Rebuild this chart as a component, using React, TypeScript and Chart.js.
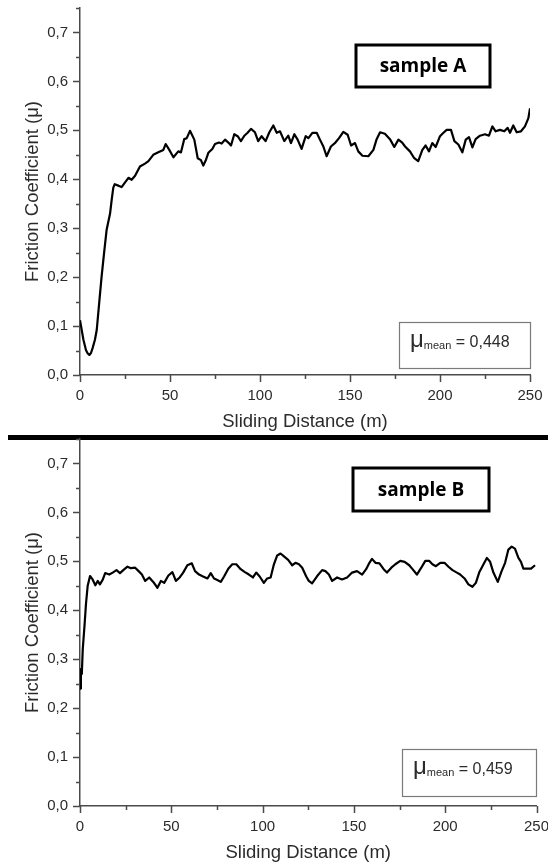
import React, { useEffect, useRef } from "react";
import { Chart, registerables } from "chart.js";

Chart.register(...registerables);

// ---------- data ----------
const DIST_A = [0, 1.9, 3.3, 4.3, 5.2, 6.1, 7, 8.3, 9.3, 10.6, 12, 13.4, 14.8, 16.7, 17.6, 18.5, 19.3, 21.3, 23.1, 26.9, 28.7, 30.6, 33.3, 36.1, 38, 40.7, 43.5, 46.3, 47.6, 49.6, 51.9, 54.6, 56.1, 57.9, 59.3, 61.1, 63.5, 65.4, 67.2, 68.5, 70, 71.3, 73.5, 75, 77.2, 78.7, 80.6, 82.4, 83.9, 85.7, 87.6, 89.4, 91.3, 93.1, 95, 97.2, 99, 100.9, 103.1, 105.2, 107.4, 109.3, 111.1, 113.5, 115.7, 117.2, 119.1, 120.9, 123.1, 125.4, 126.9, 129.1, 131.5, 133.3, 135.2, 137, 139.4, 141.9, 143.9, 146.3, 148.7, 150.6, 152.8, 154.6, 156.9, 160.2, 163, 164.8, 166.7, 169.4, 172.2, 174.6, 176.9, 179, 180.6, 183.3, 185.7, 187.9, 190.2, 192, 193.9, 195.7, 197.6, 200, 201.9, 203.7, 206.1, 208, 210.2, 212.4, 214.3, 216.1, 218, 219.8, 222.2, 225, 227.2, 229.1, 230.9, 233.3, 235.7, 237.6, 238.9, 240.7, 242.6, 245, 247.2, 249.1, 250];
const MU_A = [0.112, 0.072, 0.051, 0.044, 0.041, 0.045, 0.055, 0.072, 0.092, 0.145, 0.201, 0.25, 0.297, 0.33, 0.358, 0.383, 0.39, 0.387, 0.384, 0.403, 0.399, 0.407, 0.426, 0.432, 0.437, 0.45, 0.455, 0.46, 0.472, 0.46, 0.445, 0.457, 0.455, 0.482, 0.484, 0.499, 0.481, 0.443, 0.439, 0.428, 0.44, 0.454, 0.462, 0.472, 0.475, 0.473, 0.481, 0.475, 0.469, 0.492, 0.488, 0.478, 0.489, 0.495, 0.503, 0.496, 0.478, 0.488, 0.478, 0.496, 0.51, 0.495, 0.498, 0.478, 0.489, 0.474, 0.492, 0.481, 0.462, 0.488, 0.484, 0.495, 0.495, 0.481, 0.467, 0.447, 0.467, 0.475, 0.484, 0.497, 0.491, 0.469, 0.474, 0.457, 0.448, 0.447, 0.46, 0.482, 0.496, 0.493, 0.482, 0.466, 0.481, 0.475, 0.467, 0.457, 0.443, 0.437, 0.46, 0.469, 0.457, 0.474, 0.466, 0.488, 0.495, 0.501, 0.501, 0.478, 0.471, 0.455, 0.481, 0.486, 0.465, 0.482, 0.489, 0.492, 0.489, 0.508, 0.498, 0.501, 0.498, 0.505, 0.495, 0.51, 0.496, 0.498, 0.508, 0.525, 0.545];

const DIST_B = [0, 0.5, 1, 1.5, 2.5, 3.3, 4.2, 5.5, 6.9, 8.4, 9.7, 10.9, 12.4, 13.8, 16, 17.9, 20, 21.9, 23.7, 26, 27.9, 30.2, 32.1, 33.9, 35.7, 37.9, 40.1, 42.4, 44.3, 46.1, 48.4, 50.6, 52.5, 54.6, 56.5, 58.8, 61.2, 63, 65.2, 67.4, 69.8, 71.6, 73.4, 75.2, 77.1, 78.9, 81.2, 83.4, 85.6, 88, 90.3, 92.5, 94.7, 96.5, 98.4, 100.7, 102.5, 104.4, 106.2, 108, 109.8, 111.7, 114, 116.2, 118, 119.9, 121.7, 123.9, 125.3, 127.1, 129.9, 132.6, 134.4, 136.3, 138.1, 140.8, 143.5, 146.3, 149, 151.7, 154.5, 156.7, 158.5, 159.9, 161.8, 164, 166.3, 168.1, 170.5, 172.7, 175.4, 177.8, 180.3, 182.1, 184.5, 186.9, 189.1, 191.2, 193, 194.9, 197.3, 199.6, 201.8, 204, 206.4, 208.2, 210.6, 212.7, 214.9, 216.8, 218.6, 220.4, 222.8, 224.6, 226.4, 228.8, 230.9, 232.8, 234.6, 236.4, 238.2, 240.1, 241.5, 242.8, 244.6, 247, 249.2];
const MU_B = [0.24, 0.28, 0.27, 0.32, 0.37, 0.414, 0.45, 0.47, 0.463, 0.451, 0.46, 0.453, 0.462, 0.476, 0.473, 0.477, 0.482, 0.476, 0.482, 0.489, 0.486, 0.487, 0.48, 0.473, 0.46, 0.467, 0.458, 0.446, 0.46, 0.456, 0.471, 0.478, 0.46, 0.467, 0.477, 0.492, 0.496, 0.48, 0.473, 0.469, 0.465, 0.476, 0.465, 0.462, 0.458, 0.469, 0.485, 0.494, 0.494, 0.484, 0.478, 0.473, 0.467, 0.477, 0.469, 0.456, 0.465, 0.467, 0.494, 0.512, 0.516, 0.51, 0.503, 0.492, 0.497, 0.494, 0.487, 0.469, 0.46, 0.455, 0.47, 0.482, 0.48, 0.473, 0.46, 0.467, 0.463, 0.467, 0.477, 0.48, 0.473, 0.484, 0.497, 0.505, 0.497, 0.496, 0.484, 0.477, 0.487, 0.494, 0.501, 0.499, 0.492, 0.484, 0.473, 0.487, 0.501, 0.501, 0.494, 0.49, 0.497, 0.497, 0.489, 0.482, 0.477, 0.473, 0.465, 0.453, 0.448, 0.456, 0.477, 0.49, 0.507, 0.499, 0.477, 0.458, 0.48, 0.497, 0.524, 0.53, 0.526, 0.507, 0.499, 0.485, 0.485, 0.485, 0.492];

const X_TICKS = [0, 50, 100, 150, 200, 250];
const X_MINOR = [25, 75, 125, 175, 225];
const Y_TICKS = [0, 0.1, 0.2, 0.3, 0.4, 0.5, 0.6, 0.7];
const Y_MINOR = [0.05, 0.15, 0.25, 0.35, 0.45, 0.55, 0.65, 0.75];
const X_MAX = 250;
const Y_MAX = 0.75;
const X_TITLE = "Sliding Distance (m)";
const Y_TITLE = "Friction Coefficient (\u03bc)";
const LABEL_A = "sample A";
const LABEL_B = "sample B";
const MEAN_A = "0,448";
const MEAN_B = "0,459";

// ---------- styling ----------
const AXIS_COLOR = "#4a4a4a";
const TEXT_COLOR = "#2b2b2b";
const FONT = '"Liberation Sans", Arial, sans-serif';

type Box = { x: number; y: number; w: number; h: number };

const decoPlugin = {
  id: "deco",
  afterDraw(chart: any, _args: any, opts: any) {
    const ctx = chart.ctx as CanvasRenderingContext2D;
    const xs = chart.scales.x;
    const ys = chart.scales.y;
    const ca = chart.chartArea;
    ctx.save();
    // tick marks (major + minor), outward
    ctx.strokeStyle = AXIS_COLOR;
    ctx.lineWidth = 1.5;
    ctx.beginPath();
    X_TICKS.forEach((v) => {
      const px = Math.round(xs.getPixelForValue(v)) + 0.5;
      ctx.moveTo(px, ca.bottom);
      ctx.lineTo(px, ca.bottom + 7);
    });
    X_MINOR.forEach((v) => {
      const px = Math.round(xs.getPixelForValue(v)) + 0.5;
      ctx.moveTo(px, ca.bottom);
      ctx.lineTo(px, ca.bottom + 4);
    });
    Y_TICKS.forEach((v) => {
      const py = Math.round(ys.getPixelForValue(v)) + 0.5;
      ctx.moveTo(ca.left, py);
      ctx.lineTo(ca.left - 7, py);
    });
    Y_MINOR.forEach((v) => {
      const py = Math.round(ys.getPixelForValue(v)) + 0.5;
      ctx.moveTo(ca.left, py);
      ctx.lineTo(ca.left - 4, py);
    });
    ctx.stroke();

    // sample label box
    const sb: Box = opts.sampleBox;
    ctx.strokeStyle = "#000";
    ctx.lineWidth = 3;
    ctx.strokeRect(sb.x, sb.y, sb.w, sb.h);
    ctx.fillStyle = "#000";
    ctx.font = 'bold 19px "Open Sans", sans-serif';
    ctx.textAlign = "center";
    ctx.textBaseline = "middle";
    ctx.fillText(opts.label, sb.x + sb.w / 2, sb.y + sb.h / 2 + 1);

    // mean box
    const mb: Box = opts.meanBox;
    ctx.strokeStyle = "#7a7a7a";
    ctx.lineWidth = 1.2;
    ctx.strokeRect(mb.x + 0.5, mb.y + 0.5, mb.w, mb.h);
    ctx.fillStyle = TEXT_COLOR;
    ctx.textAlign = "left";
    ctx.textBaseline = "alphabetic";
    const base = mb.y + 25;
    let cx = mb.x + 11;
    ctx.font = `24px ${FONT}`;
    ctx.fillText("\u03bc", cx, base);
    cx += ctx.measureText("\u03bc").width;
    ctx.font = `11px ${FONT}`;
    ctx.fillText("mean", cx, base + 2);
    cx += ctx.measureText("mean").width;
    ctx.font = `16px ${FONT}`;
    ctx.fillText(" = " + opts.mean, cx, base);
    ctx.restore();
  },
};

type PanelProps = {
  top: number;
  height: number;
  dist: number[];
  mu: number[];
  label: string;
  mean: string;
  padTop: number;
  padRight: number;
  sampleBox: Box;
  meanBox: Box;
};

function Panel(p: PanelProps) {
  const ref = useRef<HTMLCanvasElement | null>(null);
  useEffect(() => {
    if (!ref.current) return;
    const n = Math.min(p.dist.length, p.mu.length);
    const pts = [];
    for (let i = 0; i < n; i++) pts.push({ x: p.dist[i], y: p.mu[i] });
    const chart = new Chart(ref.current, {
      type: "line",
      data: {
        datasets: [
          {
            data: pts,
            borderColor: "#000",
            borderWidth: 2.2,
            pointRadius: 0,
            fill: false,
            tension: 0,
            borderJoinStyle: "round",
          },
        ],
      },
      plugins: [decoPlugin as any],
      options: {
        animation: false,
        responsive: false,
        devicePixelRatio: 1,
        layout: { padding: { top: p.padTop, right: p.padRight, left: 0, bottom: 0 } },
        plugins: {
          legend: { display: false },
          tooltip: { enabled: false },
          deco: { label: p.label, mean: p.mean, sampleBox: p.sampleBox, meanBox: p.meanBox },
        } as any,
        scales: {
          x: {
            type: "linear",
            min: 0,
            max: X_MAX,
            afterBuildTicks: (s: any) => {
              s.ticks = X_TICKS.map((v) => ({ value: v }));
            },
            afterFit: (s: any) => {
              s.height = 58;
              s.paddingLeft = 0;
              s.paddingRight = 0;
            },
            grid: { display: false, drawTicks: false },
            border: { display: true, color: AXIS_COLOR, width: 1.5 },
            ticks: {
              padding: 12,
              color: TEXT_COLOR,
              font: { family: FONT, size: 15 },
              maxRotation: 0,
              callback: (v: any) => String(v),
            },
            title: {
              display: true,
              text: X_TITLE,
              color: TEXT_COLOR,
              font: { family: FONT, size: 18.5 },
              padding: { top: 0, bottom: 0 },
            },
          },
          y: {
            type: "linear",
            min: 0,
            max: Y_MAX,
            afterBuildTicks: (s: any) => {
              s.ticks = Y_TICKS.map((v) => ({ value: v }));
            },
            afterFit: (s: any) => {
              s.width = 80;
              s.paddingTop = 0;
              s.paddingBottom = 0;
            },
            grid: { display: false, drawTicks: false },
            border: { display: true, color: AXIS_COLOR, width: 1.5 },
            ticks: {
              padding: 12,
              color: TEXT_COLOR,
              font: { family: FONT, size: 15 },
              callback: (v: any) => Number(v).toFixed(1).replace(".", ","),
            },
            title: {
              display: true,
              text: Y_TITLE,
              color: TEXT_COLOR,
              font: { family: FONT, size: 18.5 },
              padding: { top: 22, bottom: 0 },
            },
          },
        },
      } as any,
    });
    return () => chart.destroy();
  }, []);
  return (
    <canvas
      ref={ref}
      width={548}
      height={p.height}
      style={{ position: "absolute", left: 0, top: p.top, width: 548, height: p.height }}
    />
  );
}

export default function App() {
  return (
    <div style={{ position: "absolute", left: 0, top: 0, width: 548, height: 864, background: "#fff" }}>
      <div style={{ position: "absolute", left: 8, top: 435, width: 540, height: 5, background: "#000" }} />
      <Panel
        top={0}
        height={433}
        dist={DIST_A}
        mu={MU_A}
        label={LABEL_A}
        mean={MEAN_A}
        padTop={8}
        padRight={18}
        sampleBox={{ x: 356, y: 45, w: 134, h: 42 }}
        meanBox={{ x: 399, y: 322, w: 131, h: 46 }}
      />
      <Panel
        top={436}
        height={428}
        dist={DIST_B}
        mu={MU_B}
        label={LABEL_B}
        mean={MEAN_B}
        padTop={3}
        padRight={11.5}
        sampleBox={{ x: 353, y: 32, w: 136, h: 43 }}
        meanBox={{ x: 402, y: 313, w: 134, h: 47 }}
      />
    </div>
  );
}
